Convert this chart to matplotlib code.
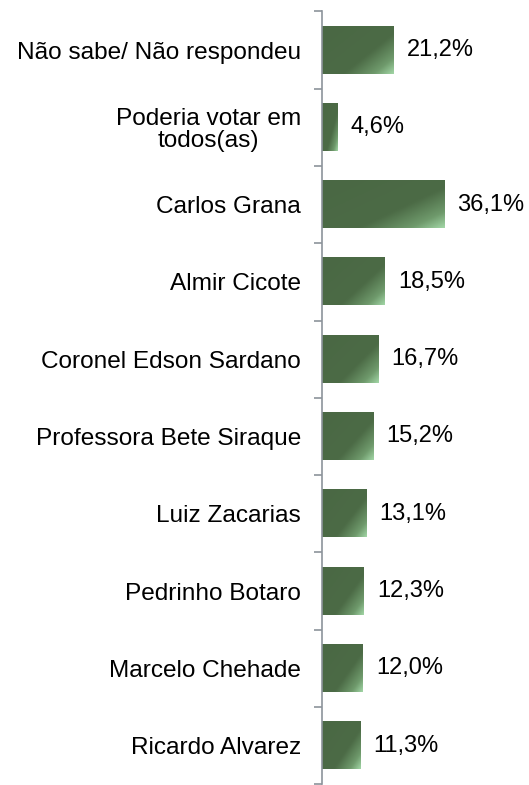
import numpy as np
import matplotlib.pyplot as plt
from matplotlib.colors import LinearSegmentedColormap

plt.rcParams['font.family'] = ['Liberation Sans', 'DejaVu Sans']

# =========================
# DATA
# =========================

candidates = [
    "Não sabe/ Não respondeu",
    "Poderia votar em\ntodos(as)",
    "Carlos Grana",
    "Almir Cicote",
    "Coronel Edson Sardano",
    "Professora Bete Siraque",
    "Luiz Zacarias",
    "Pedrinho Botaro",
    "Marcelo Chehade",
    "Ricardo Alvarez",
]

percent = [21.2, 4.6, 36.1, 18.5, 16.7, 15.2, 13.1, 12.3, 12.0, 11.3]

value_labels = ["21,2%", "4,6%", "36,1%", "18,5%", "16,7%",
                "15,2%", "13,1%", "12,3%", "12,0%", "11,3%"]


# =========================
# FIGURE
# =========================

fig = plt.figure(figsize=(5.29, 7.85), dpi=100)
ax = fig.add_axes([0.6087, 0.001, 0.39, 0.9845])

y = np.arange(len(candidates))

bars = ax.barh(y, percent, height=0.61, facecolor='none', edgecolor='none')

cmap = LinearSegmentedColormap.from_list(
    "green_grad",
    [(0.0, "#4a6844"), (0.62, "#4c6b46"), (0.85, "#6f9a6c"), (1.0, "#a2d6a6")]
)

gx, gy = np.meshgrid(np.linspace(0, 1, 200), np.linspace(0, 1, 60))
grad = 0.55 * gx + 0.45 * gy

for bar in bars:
    x0 = bar.get_x()
    w = bar.get_width()
    y0 = bar.get_y()
    h = bar.get_height()
    ax.imshow(grad, cmap=cmap, aspect='auto', origin='upper',
              extent=(x0, x0 + w, y0 + h, y0), zorder=2,
              interpolation='bilinear', vmin=0, vmax=1)

for bar, lab in zip(bars, value_labels):
    ax.annotate(lab,
                xy=(bar.get_width(), bar.get_y() + bar.get_height() / 2),
                xytext=(9.5, 0), textcoords='offset points',
                va='center', ha='left', fontsize=17, color='black')

ax.set_xlim(0, 61)
ax.set_ylim(len(candidates) - 0.5, -0.5)

ax.set_yticks(y)
ax.set_yticklabels(candidates, fontsize=17.6)
for t in ax.get_yticklabels():
    t.set_multialignment('center')
    t.set_linespacing(1.0)

ax.set_yticks(np.arange(-0.5, len(candidates), 1), minor=True)
ax.tick_params(axis='y', which='major', length=0, pad=15)
ax.tick_params(axis='y', which='minor', length=6, width=1.2, color='#8c939b')

ax.set_xticks([])
for side in ['top', 'right', 'bottom']:
    ax.spines[side].set_visible(False)
ax.spines['left'].set_color('#8c939b')
ax.spines['left'].set_linewidth(1.2)

fig.savefig("out.png", dpi=100)
